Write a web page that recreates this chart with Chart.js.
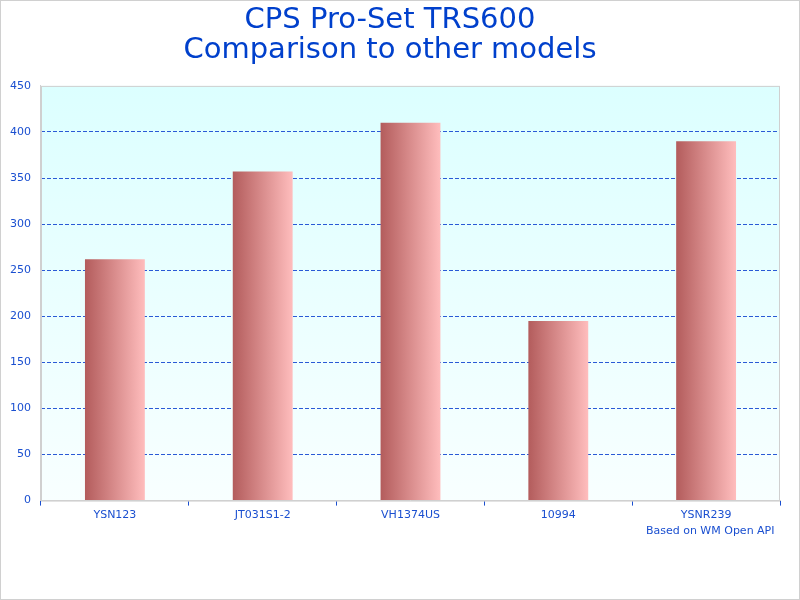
<!DOCTYPE html>
<html>
<head>
    <title>CPS Pro-Set TRS600</title>
    <script src="https://cdn.jsdelivr.net/npm/chart.js"></script>
    <style>
        body { margin: 0; background: #fff; }
    </style>
</head>
<body>
    <canvas id="cmpChart" width="800" height="600"></canvas>
    <script>
        const models = ['YSN123', 'JT031S1-2', 'VH1374US', '10994', 'YSNR239'];
        const values = [262, 357, 410, 195, 390];
        const yTicks = [0, 50, 100, 150, 200, 250, 300, 350, 400, 450];

        const blue = '#1a4fd0';
        const fontFamily = '"DejaVu Sans", Verdana, sans-serif';

        function barGradient(context) {
            const chart = context.chart;
            const area = chart.chartArea;
            if (!area) return '#d88';
            const x = chart.scales.x.getPixelForValue(context.dataIndex);
            const w = area.width / models.length * 0.405;
            const g = chart.ctx.createLinearGradient(x - w / 2, 0, x + w / 2, 0);
            g.addColorStop(0, '#b35c5c');
            g.addColorStop(1, '#ffbdbd');
            return g;
        }

        // plot background gradient + frames
        const frame = {
            id: 'frame',
            beforeDraw(chart) {
                const { ctx, chartArea: a } = chart;
                ctx.save();
                const g = ctx.createLinearGradient(0, a.top, 0, a.bottom);
                g.addColorStop(0, '#dcffff');
                g.addColorStop(1, '#f8ffff');
                ctx.fillStyle = g;
                ctx.fillRect(a.left, a.top, a.width, a.height);
                ctx.restore();
            },
            afterDraw(chart) {
                const { ctx, chartArea: a } = chart;
                ctx.save();
                ctx.strokeStyle = '#d0d0d0';
                ctx.lineWidth = 1;
                ctx.strokeRect(a.left + 0.5, a.top + 0.5, a.width - 1, a.height);
                ctx.strokeRect(0.5, 0.5, chart.width - 1, chart.height - 1);
                ctx.restore();
            }
        };

        new Chart(document.getElementById('cmpChart').getContext('2d'), {
            type: 'bar',
            data: {
                labels: models,
                datasets: [{
                    data: values,
                    backgroundColor: barGradient,
                    borderWidth: 0,
                    barPercentage: 0.81,
                    categoryPercentage: 0.5
                }]
            },
            plugins: [frame],
            options: {
                responsive: false,
                animation: false,
                layout: { padding: { left: 0, right: 20, top: 0, bottom: 62 } },
                plugins: {
                    legend: { display: false },
                    tooltip: { enabled: false },
                    title: {
                        display: true,
                        text: ['CPS Pro-Set TRS600', 'Comparison to other models'],
                        color: '#0040cc',
                        font: { family: fontFamily, size: 29, weight: 'normal', lineHeight: 1.05 },
                        padding: { top: 5, bottom: 20 }
                    }
                },
                scales: {
                    x: {
                        grid: {
                            offset: true,
                            drawOnChartArea: false,
                            drawTicks: true,
                            tickLength: 5,
                            color: blue
                        },
                        border: { display: true, color: '#d0d0d0' },
                        ticks: {
                            color: blue,
                            padding: 3,
                            font: { family: fontFamily, size: 11 }
                        },
                        title: {
                            display: true,
                            text: 'Based on WM Open API\u2002',
                            align: 'end',
                            color: blue,
                            font: { family: fontFamily, size: 11 },
                            padding: { top: 0, bottom: 0 }
                        }
                    },
                    y: {
                        min: 0,
                        max: 450,
                        afterBuildTicks(axis) {
                            axis.ticks = yTicks.map(v => ({ value: v }));
                        },
                        grid: {
                            drawTicks: false,
                            color: ctx => (ctx.tick && (ctx.tick.value === 0 || ctx.tick.value === 450)) ? 'rgba(0,0,0,0)' : '#2a5ad6'
                        },
                        border: { display: true, color: '#d0d0d0', dash: [4, 2] },
                        ticks: {
                            color: blue,
                            padding: 10,
                            font: { family: fontFamily, size: 11 }
                        }
                    }
                }
            }
        });
    </script>
</body>
</html>
